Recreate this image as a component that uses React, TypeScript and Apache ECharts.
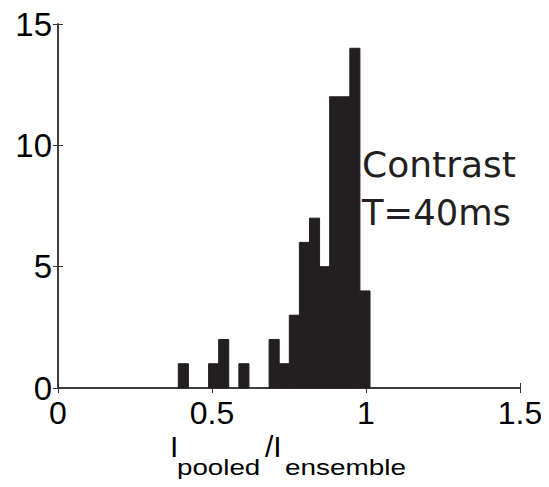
import React, { useEffect, useRef } from "react";
import * as echarts from "echarts";

// Histogram bins (left edges), common bin width and counts
const binLeft = [
  0.3906, 0.4234, 0.4561, 0.4889, 0.5216, 0.5544, 0.5872, 0.6199, 0.6527,
  0.6854, 0.7182, 0.751, 0.7837, 0.8165, 0.8492, 0.882, 0.9148, 0.9475, 0.9803,
];
const binWidth = 0.03276;
const counts = [1, 0, 0, 1, 2, 0, 1, 0, 0, 2, 1, 3, 6, 7, 5, 12, 12, 14, 4];

const xTicks = { min: 0, max: 1.5, interval: 0.5 };
const yTicks = { min: 0, max: 15, interval: 5 };
const annotation = ["Contrast", "T=40ms"];
const xName = ["I", "pooled", "/I", "ensemble"];

const BAR = "#231f20";
const AXIS = "#333333";

export default function App() {
  const ref = useRef<HTMLDivElement>(null);
  useEffect(() => {
    if (!ref.current) return;
    const chart = echarts.init(ref.current, null, { renderer: "svg" });
    const data = binLeft.map((l, i) => [l, l + binWidth, counts[i]]);
    const axisLine = { show: true, lineStyle: { color: AXIS, width: 1.5 } };
    const font = "Liberation Sans";
    const tick = { show: true, inside: true, length: 5, lineStyle: { color: AXIS, width: 1 } };
    const big = { fontSize: 30, fontFamily: font, fill: "#000", verticalAlign: "middle", align: "left" };
    const sub = { fontSize: 22, fontFamily: font, fill: "#000", verticalAlign: "middle", align: "left" };
    const ann = { fontSize: 35, fontFamily: "DejaVu Sans", fill: "#231f20", verticalAlign: "middle", align: "left" };
    chart.setOption({
      animation: false,
      grid: { left: 58, right: 29, top: 24, bottom: 99, containLabel: false },
      xAxis: [
        {
          type: "value",
          ...xTicks,
          position: "bottom",
          axisLine,
          axisTick: tick,
          splitLine: { show: false },
          axisLabel: { fontSize: 32, color: "#000", fontFamily: font, margin: 9 },
        },
        {
          type: "value",
          ...xTicks,
          position: "top",
          axisLine,
          axisTick: tick,
          splitLine: { show: false },
          axisLabel: { show: false },
        },
      ],
      yAxis: [
        {
          type: "value",
          ...yTicks,
          position: "left",
          axisLine,
          axisTick: tick,
          splitLine: { show: false },
          axisLabel: { fontSize: 33, color: "#000", fontFamily: font, margin: 6 },
        },
        {
          type: "value",
          ...yTicks,
          position: "right",
          axisLine,
          axisTick: tick,
          splitLine: { show: false },
          axisLabel: { show: false },
        },
      ],
      series: [
        {
          type: "custom",
          xAxisIndex: 0,
          yAxisIndex: 0,
          data,
          encode: { x: [0, 1], y: 2 },
          renderItem: (params: any, api: any) => {
            const c = api.value(2);
            if (!c) return null;
            const p0 = api.coord([api.value(0), 0]);
            const p1 = api.coord([api.value(1), c]);
            return {
              type: "rect",
              shape: { x: p0[0], y: p1[1], width: p1[0] - p0[0], height: p0[1] - p1[1] },
              style: { fill: BAR, stroke: BAR, lineWidth: 1 },
            };
          },
        },
      ],
      graphic: [
        { type: "text", x: 362, y: 165, scaleX: 1.03, style: { ...ann, text: annotation[0] } },
        { type: "text", x: 362, y: 213, scaleX: 1.01, style: { ...ann, text: annotation[1] } },
        { type: "text", x: 170, y: 446, style: { ...big, text: xName[0] } },
        { type: "text", x: 177, y: 467, scaleX: 1.26, style: { ...sub, text: xName[1] } },
        { type: "text", x: 265, y: 446, style: { ...big, text: xName[2] } },
        { type: "text", x: 285, y: 467, scaleX: 1.27, style: { ...sub, text: xName[3] } },
      ],
    });
    return () => chart.dispose();
  }, []);
  return <div ref={ref} style={{ width: 549, height: 487, margin: -8 }} />;
}
